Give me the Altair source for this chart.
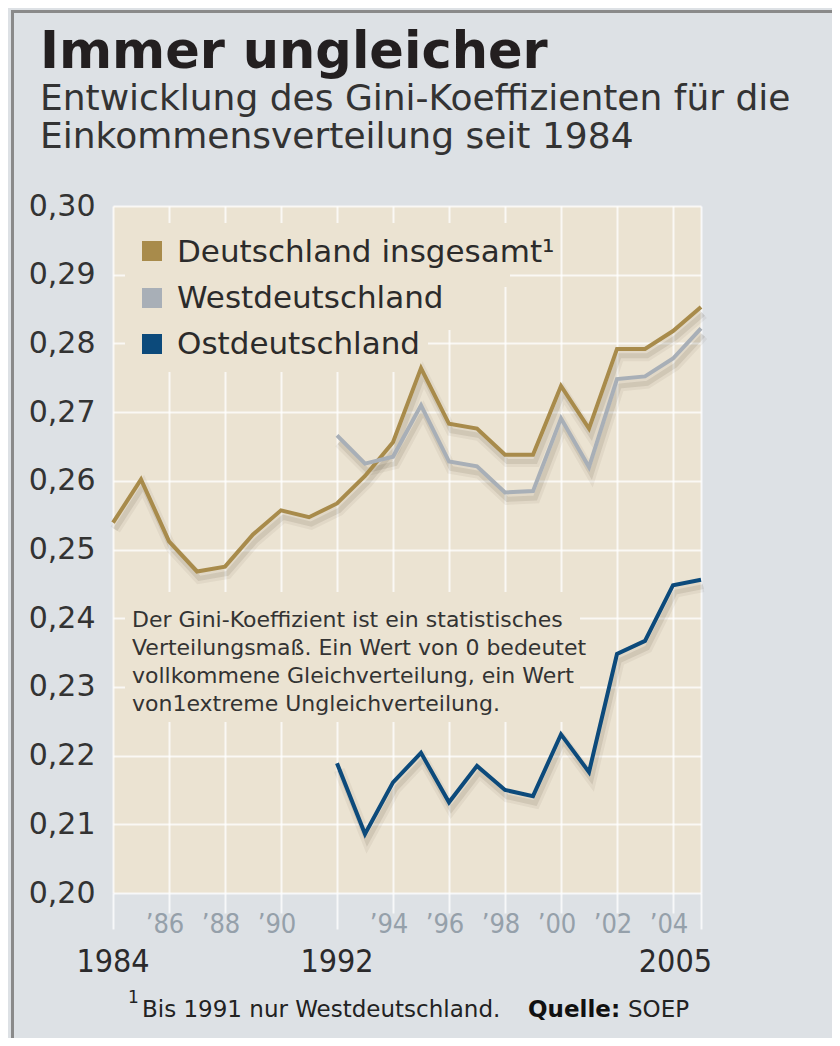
import altair as alt
import pandas as pd

# ---------------- data ----------------
years_all = [1984, 1985, 1986, 1987, 1988, 1989, 1990, 1991, 1992, 1993, 1994,
             1995, 1996, 1997, 1998, 1999, 2000, 2001, 2002, 2003, 2004, 2005]
gesamt = [0.2539, 0.2602, 0.2512, 0.2468, 0.2475, 0.2522, 0.2557, 0.2547, 0.2567,
          0.2607, 0.2656, 0.2764, 0.2683, 0.2676, 0.2638, 0.2638, 0.2738, 0.2676,
          0.2792, 0.2792, 0.2818, 0.2853]
years_split = [1992, 1993, 1994, 1995, 1996, 1997, 1998, 1999, 2000, 2001, 2002,
               2003, 2004, 2005]
west = [0.2666, 0.2625, 0.2635, 0.2710, 0.2628, 0.2621, 0.2583, 0.2585, 0.2691,
        0.2620, 0.2748, 0.2752, 0.2778, 0.2822]
ost = [0.2189, 0.2086, 0.2161, 0.2204, 0.2132, 0.2185, 0.2150, 0.2141, 0.2231,
       0.2176, 0.2348, 0.2367, 0.2448, 0.2456]

series_names = ["Deutschland insgesamt", "Westdeutschland", "Ostdeutschland"]
legend_labels = ["Deutschland insgesamt\u00b9", "Westdeutschland", "Ostdeutschland"]
series_colors = ["#a88b4b", "#a8afb7", "#0c4a7b"]

grid_years = [1984, 1986, 1988, 1990, 1992, 1994, 1996, 1998, 2000, 2002, 2004, 2005]
minor_years = [1986, 1988, 1990, 1994, 1996, 1998, 2000, 2002, 2004]
minor_labels = ["\u201986", "\u201988", "\u201990", "\u201994", "\u201996", "\u201998",
                "\u201900", "\u201902", "\u201904"]
major_years = [1984, 1992]
major_labels = ["1984", "1992"]
last_year = [2005]
last_label = ["2005"]
y_ticks = [0.20, 0.21, 0.22, 0.23, 0.24, 0.25, 0.26, 0.27, 0.28, 0.29, 0.30]

title = "Immer ungleicher"
subtitle = ["Entwicklung des Gini-Koeffizienten für die",
            "Einkommensverteilung seit 1984"]
note = ["Der Gini-Koeffizient ist ein statistisches",
        "Verteilungsmaß. Ein Wert von 0 bedeutet",
        "vollkommene Gleichverteilung, ein Wert",
        "von1extreme Ungleichverteilung."]

# ---------------- build table ----------------
rows = []
for y, v in zip(years_all, gesamt):
    rows.append({"year": y, "value": v, "series": series_names[0]})
for y, v in zip(years_split, west):
    rows.append({"year": y, "value": v, "series": series_names[1]})
for y, v in zip(years_split, ost):
    rows.append({"year": y, "value": v, "series": series_names[2]})
df = pd.DataFrame(rows)

BEIGE = "#ebe3d2"
BG = "#dde1e5"
DARK = "#2b2a2c"

x_scale = alt.Scale(domain=[1984, 2005], nice=False, zero=False)
y_scale = alt.Scale(domain=[0.20, 0.30], nice=False, zero=False)

x_axis = alt.Axis(
    values=grid_years, labels=False, title=None, domain=False,
    grid=True, gridColor="white", gridOpacity=0.75, gridWidth=2,
    ticks=True, tickColor="white", tickOpacity=0.75, tickWidth=2,
    tickSize={"condition": {"test": "datum.value == 1984 || datum.value == 1992 || datum.value == 2005",
                            "value": 36}, "value": 20},
)
y_axis = alt.Axis(
    values=y_ticks, title=None, domain=False, ticks=False,
    grid=True, gridColor="white", gridOpacity=0.75, gridWidth=2,
    labelFont="DejaVu Sans", labelFontSize=30, labelColor="#333333",
    labelPadding=18, labelBaseline="middle",
    labelExpr="replace(format(datum.value, '.2f'), '.', ',')",
)

X = alt.X("year:Q", scale=x_scale, axis=x_axis)
Y = alt.Y("value:Q", scale=y_scale, axis=y_axis)

color = alt.Color("series:N", scale=alt.Scale(domain=series_names, range=series_colors),
                  legend=None)

ONE = alt.Data(values=[{}])


def txt(s, x, y, size, font="DejaVu Sans", weight="normal", col="#333333", align="left"):
    return alt.Chart(ONE).mark_text(
        text=s, font=font, fontSize=size, fontWeight=weight, color=col,
        align=align, baseline="alphabetic"
    ).encode(x=alt.value(x), y=alt.value(y))


def box(x1, x2, y1, y2, fill=BEIGE):
    return alt.Chart(ONE).mark_rect(color=fill).encode(
        x=alt.value(x1), x2=alt.value(x2), y=alt.value(y1), y2=alt.value(y2))


layers = []

# boxes hiding the grid behind legend / note
layers.append(box(12, 397, 17, 81))
layers.append(box(12, 339, 81, 124))
layers.append(box(12, 315, 124, 166))
layers.append(box(12, 467, 386, 516))

# soft drop shadows under the lines
base = alt.Chart(df)
shadow_src = base.transform_calculate(xs="datum.year + 0.08", ys="datum.value - 0.0010")
layers.append(shadow_src.mark_line(strokeWidth=11, opacity=0.06, color="#3d3320").encode(
    x=alt.X("xs:Q", scale=x_scale, axis=x_axis),
    y=alt.Y("ys:Q", scale=y_scale, axis=y_axis),
    detail="series:N"))
layers.append(shadow_src.mark_line(strokeWidth=5, opacity=0.10, color="#3d3320").encode(
    x=alt.X("xs:Q", scale=x_scale, axis=x_axis),
    y=alt.Y("ys:Q", scale=y_scale, axis=y_axis),
    detail="series:N"))

# lines
layers.append(base.mark_line(strokeWidth=4).encode(
    x=X, y=Y, color=color, order=alt.Order("year:Q")))

# legend
legend_y_sq = [45, 92, 138]
legend_y_tx = [56, 102, 148]
for lab, col, ys, yt in zip(legend_labels, series_colors, legend_y_sq, legend_y_tx):
    layers.append(alt.Chart(ONE).mark_square(size=400, filled=True, color=col, opacity=1)
                  .encode(x=alt.value(39), y=alt.value(ys)))
    layers.append(txt(lab, 64, yt, 31, col="#2b2b2b"))

# note
for i, line in enumerate(note):
    layers.append(txt(line, 19, 421 + 28 * i, 22, col="#333333"))

# x labels
minor_df = pd.DataFrame({"year": minor_years, "label": minor_labels})
layers.append(alt.Chart(minor_df).mark_text(
    font="DejaVu Sans Condensed", fontSize=27, color="#95a0aa", align="center",
    baseline="alphabetic", dx=-4).encode(x=X, y=alt.value(727), text="label:N"))
major_df = pd.DataFrame({"year": major_years, "label": major_labels})
layers.append(alt.Chart(major_df).mark_text(
    font="DejaVu Sans Condensed", fontSize=32, color=DARK, align="center",
    baseline="alphabetic").encode(x=X, y=alt.value(766), text="label:N"))
last_df = pd.DataFrame({"year": last_year, "label": last_label})
layers.append(alt.Chart(last_df).mark_text(
    font="DejaVu Sans Condensed", fontSize=32, color=DARK, align="right",
    baseline="alphabetic", dx=11).encode(x=X, y=alt.value(766), text="label:N"))

# titles
layers.append(txt(title, -73, -138, 51, weight="bold", col="#231f20"))
layers.append(txt(subtitle[0], -73, -96, 36, col="#333333"))
layers.append(txt(subtitle[1], -73, -58, 36, col="#333333"))

# footnote
layers.append(txt("1", 15, 797, 17, col="#222222"))
layers.append(txt("Bis 1991 nur Westdeutschland.", 29, 811, 23, col="#222222"))
layers.append(txt("Quelle:", 415, 811, 23, weight="bold", col="#111111"))
layers.append(txt("SOEP", 515, 811, 23, col="#222222"))

# frame border (top and left)
layers.append(alt.Chart(ONE).mark_rule(color="#8a8a8a", strokeWidth=3).encode(
    x=alt.value(-101), x2=alt.value(730), y=alt.value(-194.5)))
layers.append(alt.Chart(ONE).mark_rule(color="#8a8a8a", strokeWidth=3).encode(
    x=alt.value(-100.5), y=alt.value(-196), y2=alt.value(840)))

chart = alt.layer(*layers).properties(
    width=588, height=687,
    padding={"left": 105, "top": 198, "right": 131, "bottom": 145},
    autosize=alt.AutoSizeParams(type="none"),
    background=BG,
).configure_view(fill=BEIGE, stroke=None)

chart.save("out.html", embed_options={"renderer": "svg", "actions": False})
